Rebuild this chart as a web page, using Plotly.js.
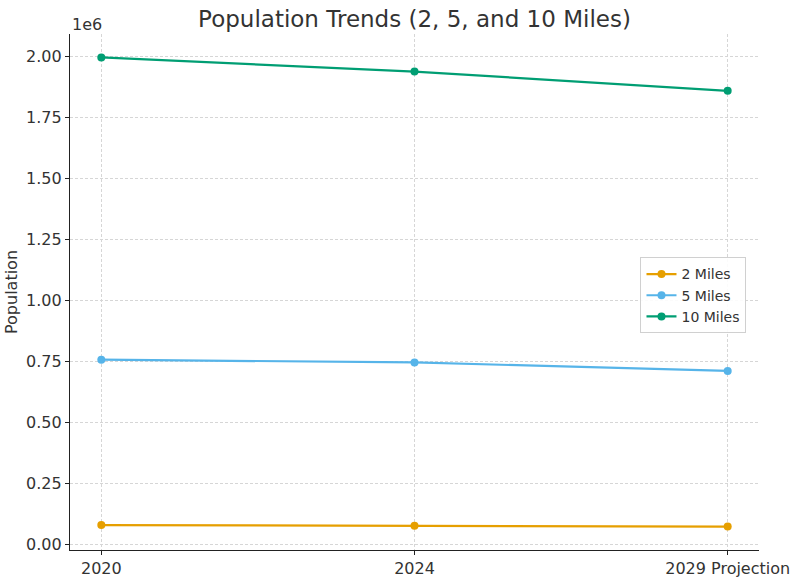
<!DOCTYPE html>
<html>
<head>
<meta charset="utf-8">
<script src="https://cdn.plot.ly/plotly-3.0.1.min.js"></script>
<style>html,body{margin:0;padding:0;background:#fff;}#chart{width:793px;height:579px;}</style>
</head>
<body>
<div id="chart"></div>
<script>
const years = ["2020", "2024", "2029 Projection"];
const seriesNames = ["2 Miles", "5 Miles", "10 Miles"];
const miles2 = [78000, 75000, 72000];
const miles5 = [756000, 745000, 710000];
const miles10 = [1995000, 1937000, 1858000];
const colors = ["#E69F00", "#56B4E9", "#009E73"];
const yTickVals = [0, 250000, 500000, 750000, 1000000, 1250000, 1500000, 1750000, 2000000];
const yTickText = yTickVals.map(v => (v / 1e6).toFixed(2));

const font = "DejaVu Sans, sans-serif";
const data = [miles2, miles5, miles10].map((ys, i) => ({
  x: [0, 1, 2],
  y: ys,
  name: seriesNames[i],
  type: "scatter",
  mode: "lines+markers",
  line: {color: colors[i], width: 2.2},
  marker: {color: colors[i], size: 8}
}));

const layout = {
  width: 793, height: 579,
  margin: {l: 70, r: 34, t: 34, b: 29},
  paper_bgcolor: "#fff", plot_bgcolor: "#fff",
  font: {family: font, color: "#333", size: 16},
  title: {text: "Population Trends (2, 5, and 10 Miles)", font: {family: font, size: 23, color: "#333"}, x: 0.5, xref: "paper", y: 0.968, yanchor: "middle"},
  showlegend: true,
  legend: {x: 0.828, y: 0.567, xanchor: "left", yanchor: "top", bgcolor: "rgba(255,255,255,0.9)", bordercolor: "#d0d0d0", borderwidth: 1, font: {family: font, size: 14, color: "#333"}, itemwidth: 30, tracegroupgap: 0},
  xaxis: {
    range: [-0.1, 2.1],
    tickvals: [0, 1, 2], ticktext: years,
    showline: true, linecolor: "#222", linewidth: 1.3, mirror: false,
    ticks: "outside", ticklen: 4, tickcolor: "#222",
    showgrid: true, gridcolor: "#d6d6d6", griddash: "3px,2px", gridwidth: 1,
    zeroline: false,
    tickfont: {family: font, size: 16, color: "#333"}
  },
  yaxis: {
    range: [-24000, 2091000],
    tickvals: yTickVals, ticktext: yTickText,
    showline: true, linecolor: "#222", linewidth: 1.3, mirror: false,
    ticks: "outside", ticklen: 4, tickcolor: "#222",
    showgrid: true, gridcolor: "#d6d6d6", griddash: "3px,2px", gridwidth: 1,
    zeroline: false,
    title: {text: "Population", font: {family: font, size: 16, color: "#333"}, standoff: 4},
    tickfont: {family: font, size: 16, color: "#333"}
  },
  annotations: [
    {text: "1e6", xref: "paper", yref: "paper", x: 0, y: 1, xanchor: "left", yanchor: "bottom", showarrow: false, font: {family: font, size: 16, color: "#333"}, yshift: -2},
    {text: "Year", xref: "paper", yref: "paper", x: 0.5, y: 0, xanchor: "center", yanchor: "top", showarrow: false, font: {family: font, size: 16, color: "#333"}, yshift: -26}
  ]
};

Plotly.newPlot("chart", data, layout, {displayModeBar: false, responsive: false});
</script>
</body>
</html>
